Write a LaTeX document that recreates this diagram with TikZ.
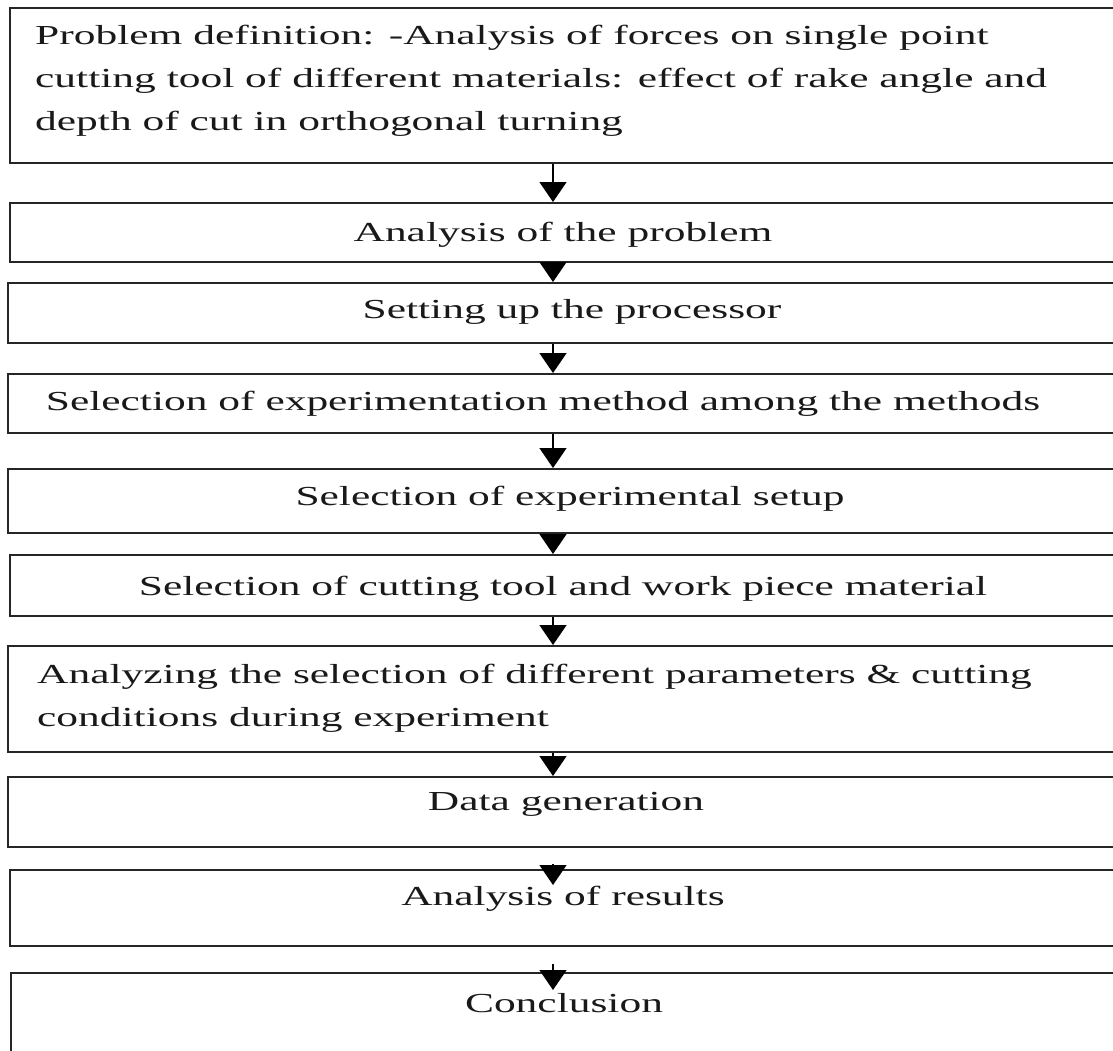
\documentclass[tikz,border=0pt]{standalone}
\usepackage{fontspec}
\setmainfont{Liberation Serif}
\usepackage{graphicx}
\usetikzlibrary{arrows.meta,positioning}
\newcommand{\widetext}[1]{\scalebox{1.58}[1]{#1}}

\begin{document}
\begin{tikzpicture}[x=1pt,y=-1pt,
    stepbox/.style={draw=black!85,line width=1.8pt,rectangle,inner sep=0pt,
      anchor=north west,minimum width=1140pt},
    steptext/.style={inner sep=0pt,anchor=base,text=black!90,
      font=\fontsize{27.5}{43}\selectfont},
    flow/.style={draw=black,line width=1.5pt,-{Triangle[length=20pt,width=27pt]}}]
  \useasboundingbox (0,0) rectangle (1113,1050);
  \clip (0,0) rectangle (1113,1050);
  \fill[white] (0,0) rectangle (1113,1050);

  % Boxes (right edges run off the page)
  \node[stepbox,minimum height=155pt] (b1)  at (9,7)   {};
  \node[stepbox,minimum height=59pt]  (b2)  at (9,202) {};
  \node[stepbox,minimum height=60pt]  (b3)  at (7,282) {};
  \node[stepbox,minimum height=59pt]  (b4)  at (7,373) {};
  \node[stepbox,minimum height=64pt]  (b5)  at (7,468) {};
  \node[stepbox,minimum height=61pt]  (b6)  at (9,554) {};
  \node[stepbox,minimum height=106pt] (b7)  at (7,645) {};
  \node[stepbox,minimum height=70pt]  (b8)  at (7,776) {};
  \node[stepbox,minimum height=76pt]  (b9)  at (9,869) {};
  \node[stepbox,minimum height=100pt] (b10) at (10,972) {};

  % Texts
  \node[steptext,anchor=base west] (t1) at (35,44) {\widetext{\begin{tabular}[t]{@{}l@{}}
      Problem definition: -Analysis of forces on single point\\
      cutting tool of different materials: effect of rake angle and\\
      depth of cut in orthogonal turning\end{tabular}}};
  \node[steptext] (t2)  at (563,241)  {\widetext{Analysis of the problem}};
  \node[steptext] (t3)  at (572,318)  {\widetext{Setting up the processor}};
  \node[steptext] (t4)  at (543,410)  {\widetext{Selection of experimentation method among the methods}};
  \node[steptext] (t5)  at (570,505)  {\widetext{Selection of experimental setup}};
  \node[steptext] (t6)  at (563,595)  {\widetext{Selection of cutting tool and work piece material}};
  \node[steptext,anchor=base west] (t7) at (37,683) {\widetext{\begin{tabular}[t]{@{}l@{}}
      Analyzing the selection of different parameters \& cutting\\
      conditions during experiment\end{tabular}}};
  \node[steptext] (t8)  at (566,810)  {\widetext{Data generation}};
  \node[steptext] (t9)  at (563,905)  {\widetext{Analysis of results}};
  \node[steptext] (t10) at (564,1012) {\widetext{Conclusion}};

  % Arrows
  \coordinate (axis) at (553,0);
  \draw[flow] (b1.south -| axis) -- (b2.north -| axis);
  \draw[flow] (b2.south -| axis) -- (b3.north -| axis);
  \draw[flow] (b3.south -| axis) -- (b4.north -| axis);
  \draw[flow] (b4.south -| axis) -- (b5.north -| axis);
  \draw[flow] (b5.south -| axis) -- (b6.north -| axis);
  \draw[flow] (b6.south -| axis) -- (b7.north -| axis);
  \draw[flow] (b7.south -| axis) -- (b8.north -| axis);
  \draw[flow,shorten <=16pt,shorten >=-16pt] (b8.south -| axis) -- (b9.north -| axis);
  \draw[flow,shorten <=17pt,shorten >=-18pt] (b9.south -| axis) -- (b10.north -| axis);
\end{tikzpicture}
\end{document}
